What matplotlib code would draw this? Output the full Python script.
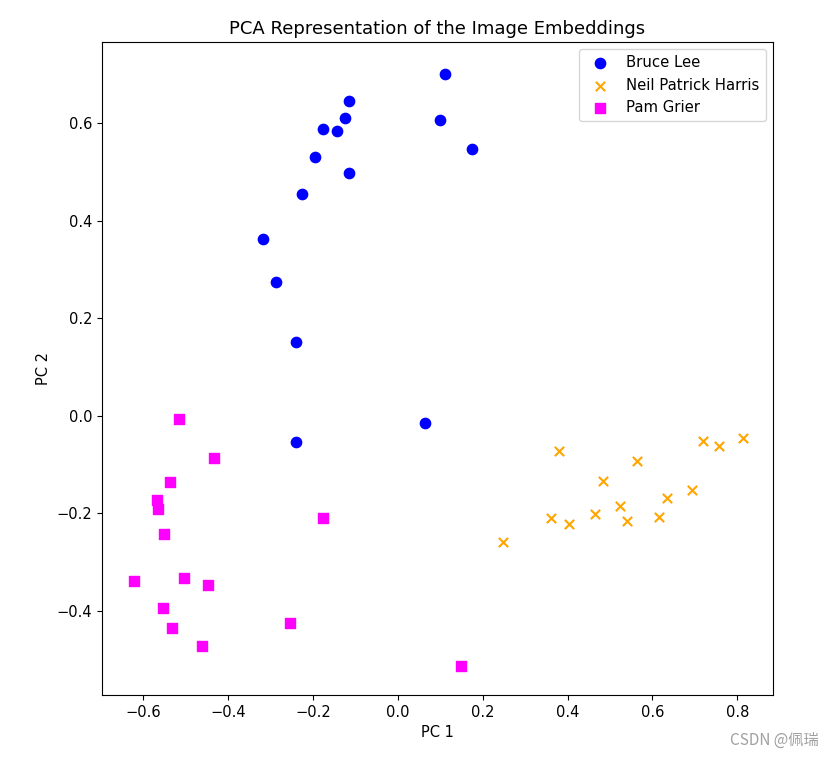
import matplotlib
matplotlib.use("Agg")
import matplotlib.pyplot as plt

bruce_x = [0.110, -0.115, -0.124, 0.099, -0.176, -0.144, 0.175, -0.194, -0.115, -0.225, -0.317, -0.287, -0.239, -0.240, 0.065]
bruce_y = [0.700, 0.645, 0.611, 0.606, 0.587, 0.584, 0.547, 0.531, 0.498, 0.455, 0.362, 0.274, 0.152, -0.053, -0.015]

neil_x = [0.379, 0.484, 0.563, 0.362, 0.404, 0.464, 0.523, 0.539, 0.616, 0.633, 0.694, 0.719, 0.757, 0.813, 0.248]
neil_y = [-0.072, -0.133, -0.093, -0.209, -0.222, -0.201, -0.185, -0.216, -0.207, -0.169, -0.151, -0.052, -0.062, -0.046, -0.259]

pam_x = [-0.515, -0.433, -0.537, -0.568, -0.565, -0.551, -0.621, -0.504, -0.448, -0.554, -0.533, -0.462, -0.254, -0.176, 0.148]
pam_y = [-0.007, -0.086, -0.136, -0.172, -0.190, -0.243, -0.339, -0.332, -0.347, -0.394, -0.434, -0.471, -0.424, -0.209, -0.513]

fig = plt.figure(figsize=(8.29, 7.59), dpi=100)
ax = fig.add_axes([0.123, 0.0843, 0.8095, 0.8604])

ax.scatter(bruce_x, bruce_y, c="blue", marker="o", s=55, label="Bruce Lee")
ax.scatter(neil_x, neil_y, c="orange", marker="x", s=45, label="Neil Patrick Harris")
ax.scatter(pam_x, pam_y, c="magenta", marker="s", s=44, label="Pam Grier")

ax.set_xlim(-0.697, 0.884)
ax.set_ylim(-0.572, 0.766)
ax.set_xticks([-0.6, -0.4, -0.2, 0.0, 0.2, 0.4, 0.6, 0.8])
ax.set_yticks([-0.4, -0.2, 0.0, 0.2, 0.4, 0.6])
ax.tick_params(labelsize=10.5)
ax.set_title("PCA Representation of the Image Embeddings", fontsize=13)
ax.set_xlabel("PC 1", fontsize=10.5)
ax.set_ylabel("PC 2", fontsize=10.5)
ax.legend(loc="upper right", fontsize=10.7)

fig.text(0.988, 0.013, "CSDN @佩瑞", ha="right", va="bottom", fontsize=11,
         color="#a0a0a0", family=["Noto Sans CJK SC", "DejaVu Sans"])

fig.savefig("out.png", dpi=100)
